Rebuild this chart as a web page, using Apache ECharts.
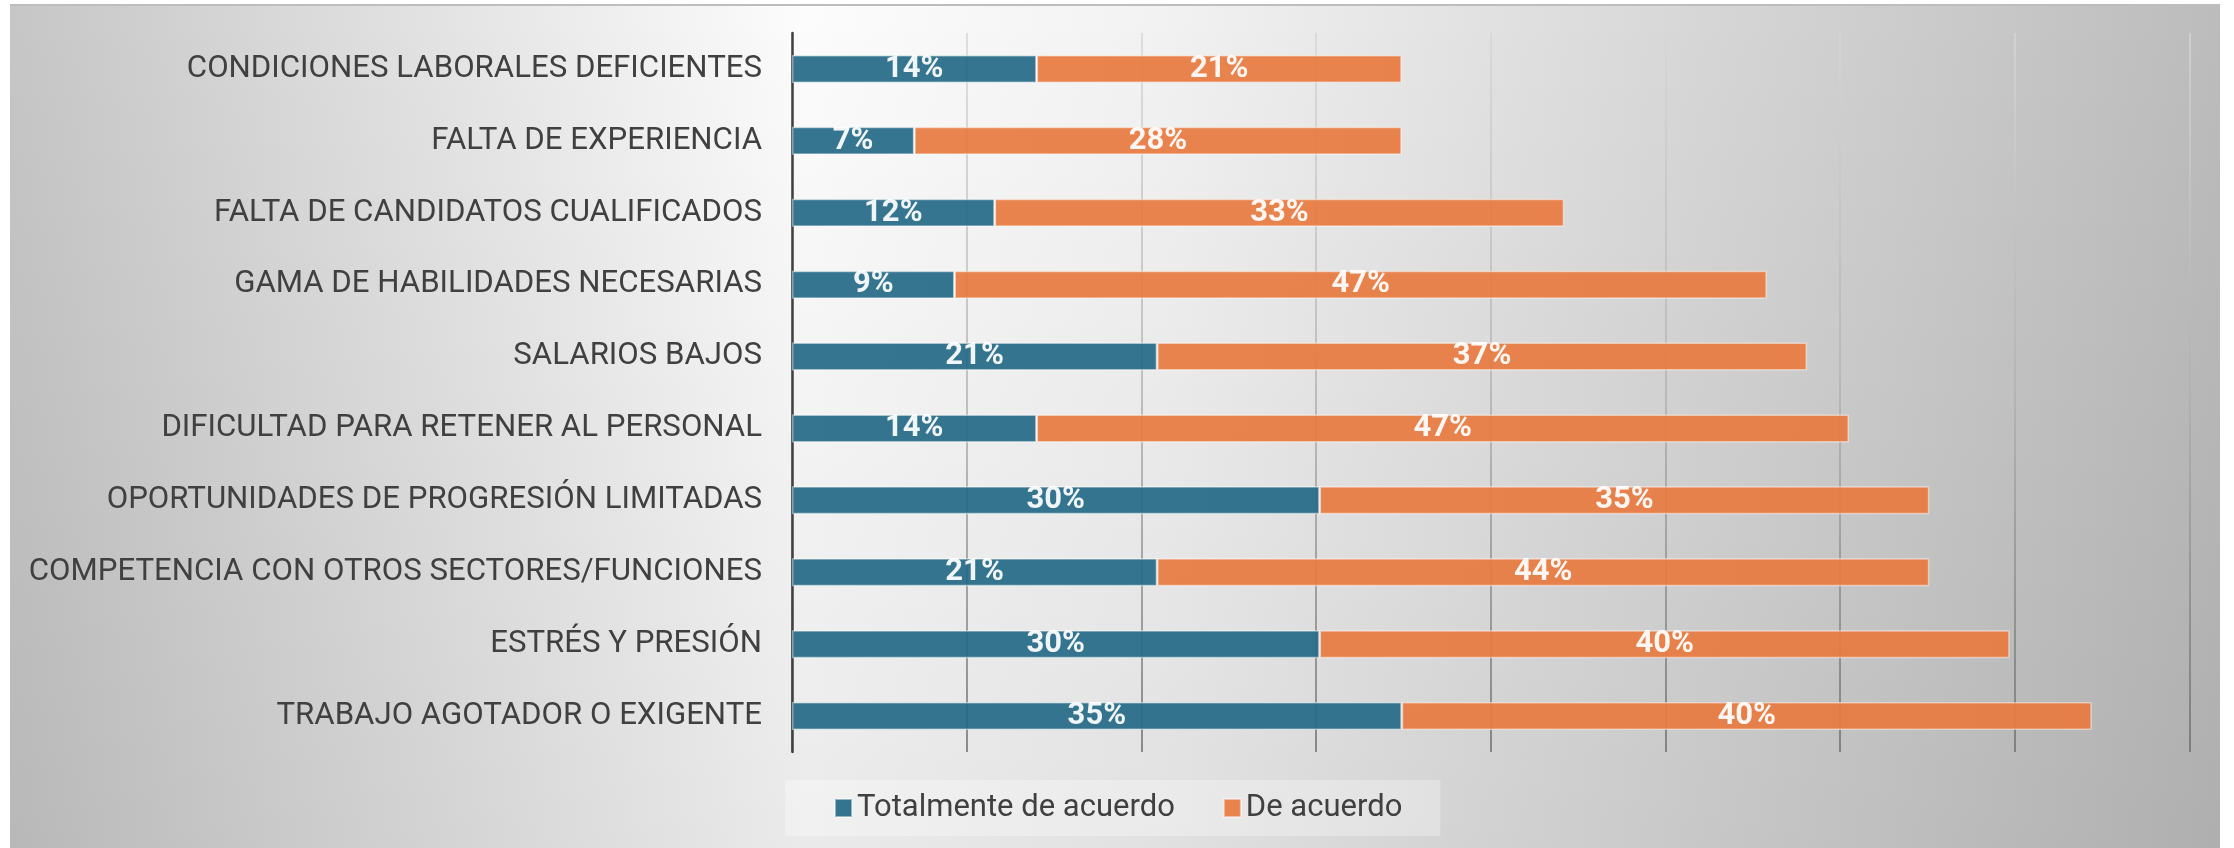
<!DOCTYPE html>
<html>
<head>
<meta charset="utf-8">
<script src="https://cdn.jsdelivr.net/npm/echarts@6/dist/echarts.min.js"></script>
<style>
  html, body { margin: 0; padding: 0; background: #fff; }
  #frame {
    position: absolute; left: 10px; top: 4px; width: 2210px; height: 844px;
    border-top: 2px solid #bdbdbd;
    background:
      linear-gradient(to bottom, rgba(0,0,0,0) 0%, rgba(0,0,0,0.07) 100%),
      linear-gradient(to right, #c6c6c6 0%, #fcfcfc 36%, #f2f2f2 52%, #bcbcbc 100%);
  }
  #main { position: absolute; left: 0; top: 0; width: 2234px; height: 848px; }
</style>
</head>
<body>
<div id="frame"></div>
<div id="main"></div>
<script>
// categorias (de arriba a abajo)
const categories = [
  'CONDICIONES LABORALES DEFICIENTES',
  'FALTA DE EXPERIENCIA',
  'FALTA DE CANDIDATOS CUALIFICADOS',
  'GAMA DE HABILIDADES NECESARIAS',
  'SALARIOS BAJOS',
  'DIFICULTAD PARA RETENER AL PERSONAL',
  'OPORTUNIDADES DE PROGRESIÓN LIMITADAS',
  'COMPETENCIA CON OTROS SECTORES/FUNCIONES',
  'ESTRÉS Y PRESIÓN',
  'TRABAJO AGOTADOR O EXIGENTE'
];
const seriesNames = ['Totalmente de acuerdo', 'De acuerdo'];
// porcentajes
const totalmente = [14.0, 7.0, 11.6, 9.3, 20.9, 14.0, 30.2, 20.9, 30.2, 34.9];
const deAcuerdo = [20.9, 27.9, 32.6, 46.5, 37.2, 46.5, 34.9, 44.2, 39.5, 39.5];

const font = 'Roboto, "Liberation Sans", sans-serif';
const myChart = echarts.init(document.getElementById('main'), null, { renderer: 'canvas' });

const barLabel = {
  show: true,
  position: 'inside',
  color: '#fff',
  fontFamily: font,
  fontWeight: 'bold',
  fontSize: 31,
  formatter: (p) => Math.round(p.value) + '%',
};

myChart.setOption({
  backgroundColor: 'transparent',
  animation: false,
  grid: { left: 792, top: 33, width: 1397.6, height: 719 },
  legend: {
    data: seriesNames,
    left: 785,
    top: 780,
    padding: [12, 38, 12, 49],
    backgroundColor: 'rgba(255,255,255,0.3)',
    itemWidth: 17,
    itemHeight: 18,
    itemGap: 48,
    icon: 'rect',
    textStyle: { fontFamily: font, fontSize: 31, color: '#404040', lineHeight: 32 },
  },
  xAxis: {
    type: 'value',
    min: 0,
    max: 80,
    interval: 10,
    axisLabel: { show: false },
    axisLine: { show: false },
    axisTick: { show: false },
    splitLine: {
      show: true,
      lineStyle: {
        width: 1.5,
        color: {
          type: 'linear', x: 0, y: 33, x2: 0, y2: 752, global: true,
          colorStops: [
            { offset: 0, color: '#d6d6d6' },
            { offset: 0.5, color: '#b0b0b0' },
            { offset: 1, color: '#6c6c6c' },
          ],
        },
      },
    },
  },
  yAxis: {
    type: 'category',
    data: categories,
    inverse: true,
    axisLine: { show: true, lineStyle: { color: '#404040', width: 2.5 } },
    axisTick: { show: false },
    axisLabel: { fontFamily: font, fontSize: 31.2, color: '#404040', margin: 30 },
  },
  series: [
    {
      name: seriesNames[0],
      type: 'bar',
      stack: 'total',
      barWidth: 28,
      data: totalmente,
      label: barLabel,
      itemStyle: { color: '#266b88', opacity: 0.93, borderColor: 'rgba(255,255,255,0.5)', borderWidth: 1.5 },
    },
    {
      name: seriesNames[1],
      type: 'bar',
      stack: 'total',
      barWidth: 28,
      data: deAcuerdo,
      label: barLabel,
      itemStyle: { color: '#e87b42', opacity: 0.93, borderColor: 'rgba(255,255,255,0.5)', borderWidth: 1.5 },
    },
  ],
});
</script>
</body>
</html>
